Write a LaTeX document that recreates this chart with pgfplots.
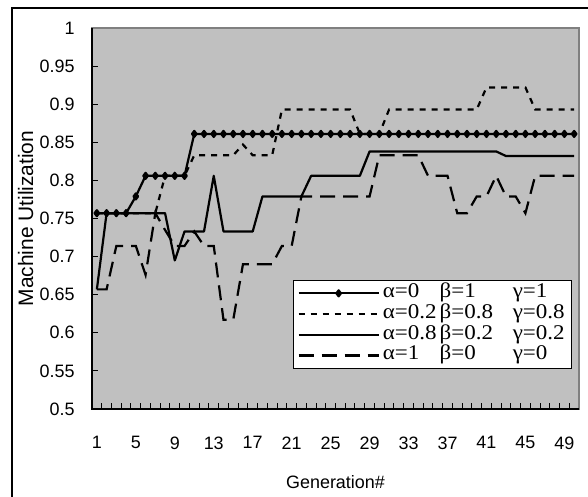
\documentclass[border=0pt]{standalone}
\usepackage{pgfplots}
\pgfplotsset{compat=1.18}
\usepackage{pgfplotstable}
\usepackage{fontspec}
\setmainfont{Liberation Sans}
\newfontfamily\legfont[FakeStretch=1.1]{Liberation Serif}
\definecolor{plotgray}{HTML}{C0C0C0}
\definecolor{bordergray}{HTML}{808080}

% machine utilization per generation, one column per weight setting
\pgfplotstableread{
gen s1    s2    s3    s4
1   0.757 0.757 0.657 0.657
2   0.757 0.757 0.757 0.657
3   0.757 0.757 0.757 0.714
4   0.757 0.757 0.757 0.714
5   0.779 0.757 0.757 0.714
6   0.806 0.757 0.757 0.676
7   0.806 0.757 0.757 0.757
8   0.806 0.806 0.757 0.735
9   0.806 0.806 0.695 0.714
10  0.806 0.806 0.733 0.714
11  0.861 0.833 0.733 0.733
12  0.861 0.833 0.733 0.714
13  0.861 0.833 0.806 0.714
14  0.861 0.833 0.733 0.617
15  0.861 0.833 0.733 0.617
16  0.861 0.847 0.733 0.690
17  0.861 0.833 0.733 0.690
18  0.861 0.833 0.779 0.690
19  0.861 0.833 0.779 0.690
20  0.861 0.893 0.779 0.714
21  0.861 0.893 0.779 0.714
22  0.861 0.893 0.779 0.779
23  0.861 0.893 0.806 0.779
24  0.861 0.893 0.806 0.779
25  0.861 0.893 0.806 0.779
26  0.861 0.893 0.806 0.779
27  0.861 0.893 0.806 0.779
28  0.861 0.861 0.806 0.779
29  0.861 0.861 0.838 0.779
30  0.861 0.861 0.838 0.833
31  0.861 0.893 0.838 0.833
32  0.861 0.893 0.838 0.833
33  0.861 0.893 0.838 0.833
34  0.861 0.893 0.838 0.833
35  0.861 0.893 0.838 0.806
36  0.861 0.893 0.838 0.806
37  0.861 0.893 0.838 0.806
38  0.861 0.893 0.838 0.757
39  0.861 0.893 0.838 0.757
40  0.861 0.893 0.838 0.779
41  0.861 0.922 0.838 0.779
42  0.861 0.922 0.838 0.806
43  0.861 0.922 0.832 0.779
44  0.861 0.922 0.832 0.779
45  0.861 0.922 0.832 0.757
46  0.861 0.893 0.832 0.806
47  0.861 0.893 0.832 0.806
48  0.861 0.893 0.832 0.806
49  0.861 0.893 0.832 0.806
50  0.861 0.893 0.832 0.806
}\util

\begin{document}
\begin{tikzpicture}
\path[use as bounding box] (0,0) rectangle (588bp,497bp);
\draw[line width=1.2bp] (12bp,0) -- (12bp,489bp) -- (590bp,489bp);
\begin{axis}[
  at={(92bp,88bp)}, anchor=south west,
  width=487bp, height=381bp, scale only axis,
  xmin=0.5, xmax=50.5, ymin=0.5, ymax=1,
  xtick={1,5,...,49},
  minor xtick={1.5,2.5,...,49.5},
  ytick={0.5,0.55,...,1},
  tick align=inside, xtick pos=left, ytick pos=left,
  major tick length=6bp, minor tick length=6bp,
  tick style={black, line width=1bp},
  major x tick style={draw=none},
  axis background/.style={fill=plotgray},
  axis line style={draw=bordergray, line width=1.5bp},
  clip=false,
  font=\fontsize{18}{21}\selectfont,
  /pgf/number format/assume math mode=true,
  xticklabel style={yshift=-24bp},
  yticklabel style={xshift=-14bp},
  xlabel={Generation\#}, ylabel={Machine Utilization},
  every axis x label/.style={at={(axis description cs:0.5,-0.192)}, anchor=center},
  every axis y label/.style={at={(axis description cs:-0.136,0.5)}, rotate=90, anchor=center,
    font=\fontsize{21}{24}\selectfont},
  legend style={at={(axis description cs:0.986,0.339)}, anchor=north east,
    fill=white, draw=black, line width=1bp, inner xsep=4bp, inner ysep=3bp,
    row sep=0.7bp,
    font=\legfont\fontsize{21}{21}\selectfont,
    nodes={text height=13bp, text depth=4bp, inner ysep=1.5bp, inner xsep=3bp}},
  legend cell align=left,
  legend image code/.code={\draw[mark repeat=2, mark phase=2, #1] plot coordinates {(0bp,0bp) (40bp,0bp) (80bp,0bp)};},
]
\addplot[black, line width=2.2bp, line join=round, mark=diamond*, mark size=3bp] table[x=gen, y=s1] {\util};
\addplot[black, line width=2.2bp, dash pattern=on 6bp off 6bp] table[x=gen, y=s2] {\util};
\addplot[black, line width=2.2bp, line join=round] table[x=gen, y=s3] {\util};
\addplot[black, line width=2.2bp, dash pattern=on 15bp off 8bp] table[x=gen, y=s4] {\util};
\draw[black, line width=1.5bp] (rel axis cs:0,1) -- (rel axis cs:0,0) -- (rel axis cs:1,0);
\legend{
  \makebox[57bp][l]{α=0}\makebox[73bp][l]{β=1}γ=1,
  \makebox[57bp][l]{α=0.2}\makebox[73bp][l]{β=0.8}γ=0.8,
  \makebox[57bp][l]{α=0.8}\makebox[73bp][l]{β=0.2}γ=0.2,
  \makebox[57bp][l]{α=1}\makebox[73bp][l]{β=0}γ=0}
\end{axis}
\end{tikzpicture}
\end{document}
